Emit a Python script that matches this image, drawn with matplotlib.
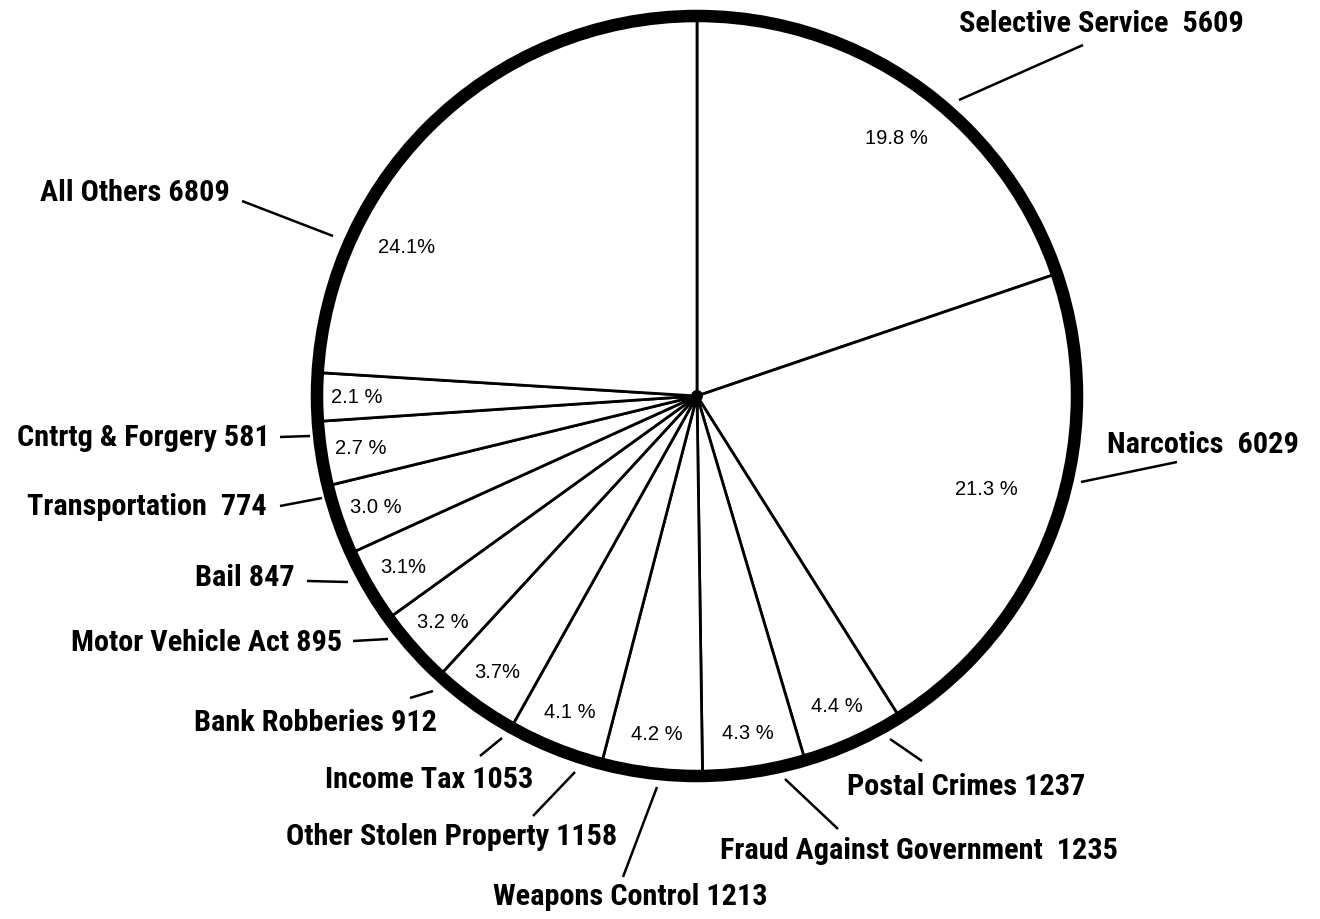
import numpy as np
import matplotlib
matplotlib.use("Agg")
import matplotlib.pyplot as plt
from matplotlib.patches import Circle
from matplotlib import font_manager

# 범주별 사건 수
categories = ["Selective Service", "Narcotics", "Postal Crimes",
              "Fraud Against Government", "Weapons Control",
              "Other Stolen Property", "Income Tax", "Bank Robberies",
              "Motor Vehicle Act", "Bail", "Transportation",
              "Cntrtg & Forgery", "All Others"]
counts = [5609, 6029, 1237, 1235, 1213, 1158, 1053, 912, 895, 847, 774, 581, 6809]
# 원본에 인쇄된 백분율 표기 그대로
pct_labels = ["19.8 %", "21.3 %", "4.4 %", "4.3 %", "4.2 %", "4.1 %", "3.7%",
              "3.2 %", "3.1%", "3.0 %", "2.7 %", "2.1 %", "24.1%"]
# 바깥 라벨 문구 (원본의 간격 유지)
name_labels = ["Selective Service  5609", "Narcotics  6029", "Postal Crimes 1237",
               "Fraud Against Government  1235", "Weapons Control 1213",
               "Other Stolen Property 1158", "Income Tax 1053", "Bank Robberies 912",
               "Motor Vehicle Act 895", "Bail 847", "Transportation  774",
               "Cntrtg & Forgery 581", "All Others 6809"]

# ---- 레이아웃 (이미지 픽셀 좌표, 위에서 아래로) ----
W, H = 1320, 920
CX, CY, R = 697, 397, 380

# 라벨 앵커: (x, y, 정렬)
label_anchor = [(959, 24, "left"), (1107, 445, "left"), (847, 787, "left"),
                (720, 851, "left"), (493, 897, "left"), (617, 837, "right"),
                (533, 780, "right"), (437, 723, "right"), (342, 643, "right"),
                (295, 578, "right"), (267, 507, "right"), (270, 438, "right"),
                (230, 193, "right")]
# 지시선 양 끝점
leader = [((1083, 46), (959, 101)), ((1177, 463), (1081, 483)),
          ((890, 740), (922, 762)), ((785, 780), (838, 830)),
          ((657, 788), (623, 878)), ((575, 773), (533, 817)),
          ((502, 739), (480, 757)), ((433, 692), (410, 699)),
          ((353, 642), (388, 640)), ((307, 582), (348, 583)),
          ((280, 507), (322, 499)), ((280, 438), (310, 437)),
          ((242, 202), (333, 237))]
# 백분율 라벨: 반지름 비율과 각도 보정(도)
pct_dist = [0.86, 0.80] + [0.895] * 10 + [0.86]
pct_turn = [-2, 1.7] + [0] * 10 + [19.5]


def flip(p):
    return (p[0], H - p[1])


def pick_narrow_font():
    """설치된 폰트 중 좁은(condensed) 굵은 글꼴을 찾는다."""
    ttf = font_manager.fontManager.ttflist
    names = {f.name for f in ttf}
    for name in ["Liberation Sans Narrow", "Roboto Condensed", "Noto Sans Condensed",
                 "Open Sans Condensed", "DejaVu Sans Condensed", "Arial Narrow"]:
        if name in names:
            return dict(family=[name, "DejaVu Sans"])
    for f in ttf:
        if ("condensed" in str(f.stretch).lower() or "Narrow" in f.name) and f.weight in (600, 700, "bold"):
            return dict(fname=f.fname)
    return dict(family=["Liberation Sans", "DejaVu Sans"])


narrow = pick_narrow_font()

fig = plt.figure(figsize=(W / 100, H / 100), dpi=100)
ax = fig.add_axes([0, 0, 1, 1])

# 글자 폭을 원본("Bank Robberies 912" ≈ 242px)에 맞춰 크기 결정
if "fname" in narrow:
    base = dict(fontproperties=font_manager.FontProperties(fname=narrow["fname"], size=20))
else:
    base = dict(family=narrow["family"], weight="bold", size=20)
probe = fig.text(0, 0, "Bank Robberies 912", **base)
fig.canvas.draw()
wpx = probe.get_window_extent().width
probe.remove()
size = min(23, 20 * 242 / wpx)
if "fontproperties" in base:
    base["fontproperties"].set_size(size)
else:
    base["size"] = size
bold_font = base
pct_font = dict(family=["Liberation Sans", "DejaVu Sans"], size=14.5)

wedges, _ = ax.pie(
    counts,
    center=flip((CX, CY)),
    radius=R,
    startangle=90,
    counterclock=False,
    wedgeprops=dict(facecolor="white", edgecolor="black", linewidth=2),
)

# 굵은 바깥 원
ax.add_patch(Circle(flip((CX, CY)), R, fill=False, edgecolor="black", linewidth=9, zorder=3))
# 중심부 뭉친 점
ax.add_patch(Circle(flip((CX, CY)), 6, facecolor="black", edgecolor="none", zorder=4))

# 조각 안 백분율
c = np.array(flip((CX, CY)))
for w, txt, d, t in zip(wedges, pct_labels, pct_dist, pct_turn):
    mid = np.deg2rad((w.theta1 + w.theta2) / 2 + t)
    x, y = c + d * R * np.array([np.cos(mid), np.sin(mid)])
    ax.text(x, y, txt, ha="center", va="center", **pct_font)

# 바깥 라벨과 지시선
for txt, (x, y, ha), (p0, p1) in zip(name_labels, label_anchor, leader):
    ax.text(x, H - y, txt, ha=ha, va="center", **bold_font)
    (x0, y0), (x1, y1) = flip(p0), flip(p1)
    ax.plot([x0, x1], [y0, y1], color="black", linewidth=1.8, solid_capstyle="butt")

ax.set_xlim(0, W)
ax.set_ylim(0, H)
ax.set_aspect("auto")
ax.axis("off")

fig.savefig("out.png", dpi=100, facecolor="white")
plt.close(fig)
